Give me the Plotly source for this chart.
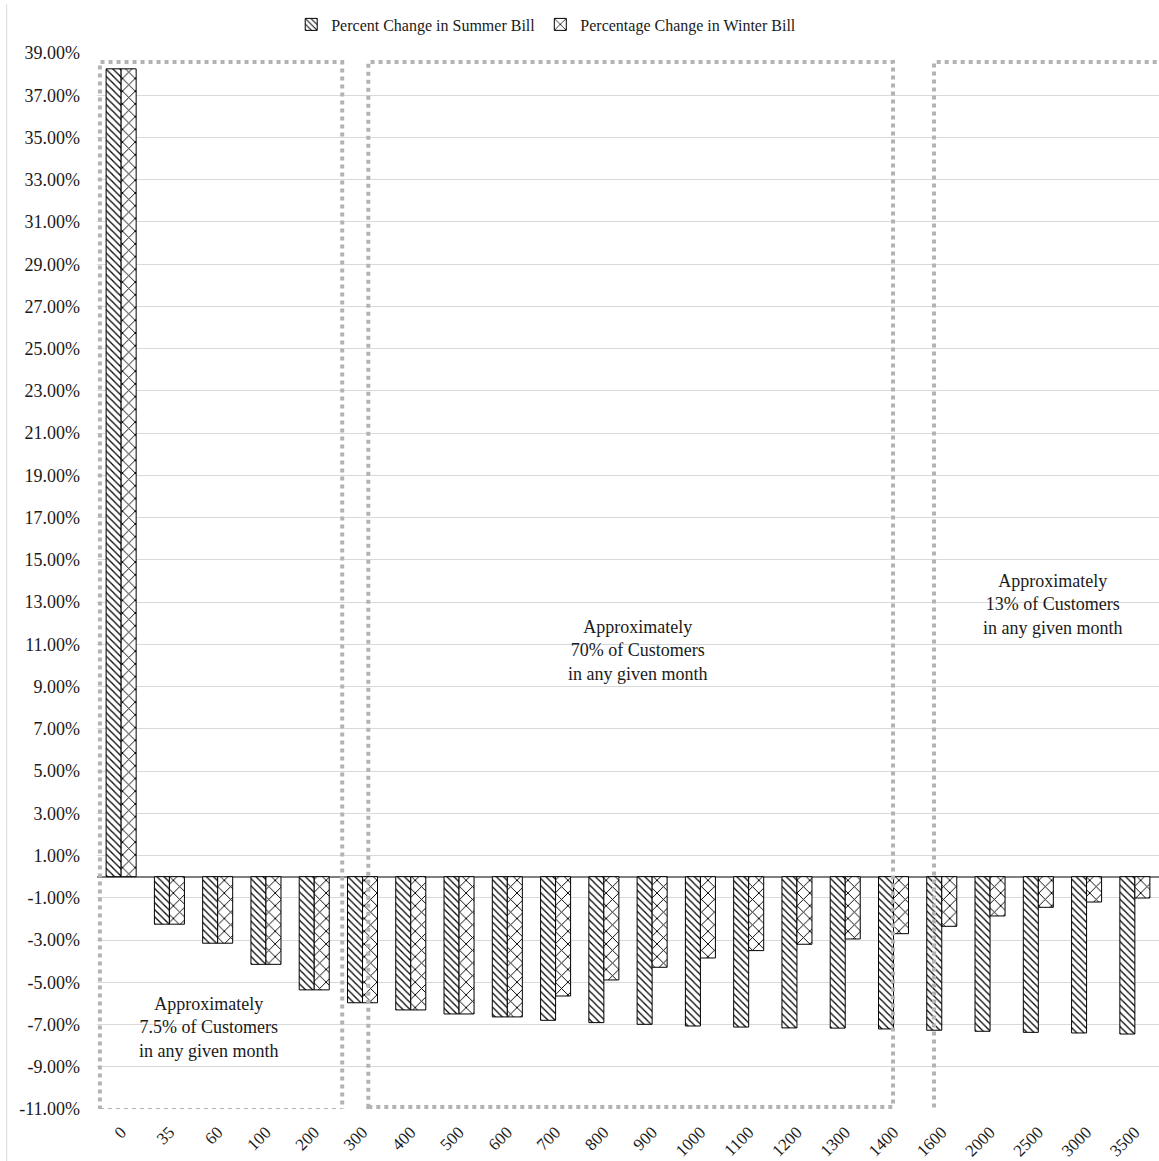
import plotly.graph_objects as go

# Monthly usage levels (kWh) shown along the x axis
usage_kwh = ["0", "35", "60", "100", "200", "300", "400", "500", "600", "700", "800",
             "900", "1000", "1100", "1200", "1300", "1400", "1600", "2000", "2500",
             "3000", "3500"]

# Percent change in the bill at each usage level
summer_change = [38.25, -2.25, -3.15, -4.15, -5.36, -5.97, -6.31, -6.50, -6.64, -6.80,
                 -6.91, -6.99, -7.07, -7.12, -7.16, -7.17, -7.21, -7.27, -7.32, -7.37,
                 -7.40, -7.45]
winter_change = [38.25, -2.25, -3.15, -4.15, -5.36, -5.97, -6.31, -6.50, -6.64, -5.65,
                 -4.89, -4.29, -3.85, -3.50, -3.20, -2.95, -2.70, -2.35, -1.86, -1.45,
                 -1.20, -1.01]

y_ticks = [-11, -9, -7, -5, -3, -1, 1, 3, 5, 7, 9, 11, 13, 15, 17, 19, 21, 23, 25, 27,
           29, 31, 33, 35, 37, 39]

group_notes = [
    "Approximately<br>7.5% of Customers<br>in any given month",
    "Approximately<br>70% of Customers<br>in any given month",
    "Approximately<br>13% of Customers<br>in any given month",
]

SERIF = "Liberation Serif, Times New Roman, serif"
TEXT = "#1a1a1a"

fig = go.Figure()
fig.add_trace(go.Bar(
    name="Percent Change in Summer Bill",
    x=usage_kwh, y=summer_change,
    marker=dict(color="white",
                line=dict(color="black", width=1),
                pattern=dict(shape="\\", size=5, solidity=0.25,
                             fgcolor="black", bgcolor="white")),
))
fig.add_trace(go.Bar(
    name="Percentage Change in Winter Bill",
    x=usage_kwh, y=winter_change,
    marker=dict(color="white",
                line=dict(color="black", width=1),
                pattern=dict(shape="x", size=9, solidity=0.2,
                             fgcolor="black", bgcolor="white")),
))

# Dotted boxes grouping the usage ranges
box_style = dict(type="rect", xref="x", yref="y", layer="above",
                 line=dict(color="#b3b3b3", width=4, dash="dot"),
                 fillcolor="rgba(0,0,0,0)")
fig.add_shape(x0=-0.44, x1=4.58, y0=-11.05, y1=38.57, **box_style)
fig.add_shape(x0=5.12, x1=15.99, y0=-10.9, y1=38.57, **box_style)
fig.add_shape(x0=16.84, x1=21.7, y0=-11.12, y1=38.57, **box_style)

# Outer chart border on the left
fig.add_shape(type="line", xref="paper", yref="paper",
              x0=-0.085, x1=-0.085, y0=-0.06, y1=1.046,
              line=dict(color="#d9d9d9", width=1))

note_pos = [(1.8, -7.12), (10.69, 10.73), (19.29, 12.91)]
for txt, (nx, ny) in zip(group_notes, note_pos):
    fig.add_annotation(x=nx, y=ny, xref="x", yref="y", text=txt, showarrow=False,
                       font=dict(family=SERIF, size=18, color=TEXT),
                       align="center")

fig.update_layout(
    width=1159, height=1161,
    template="none",
    margin=dict(l=97, r=0, t=53, b=52, pad=0),
    paper_bgcolor="white", plot_bgcolor="white",
    barmode="group", bargap=0.378, bargroupgap=0,
    font=dict(family=SERIF, color=TEXT),
    legend=dict(orientation="h", x=0.423, xanchor="center", y=1.027, yanchor="middle",
                font=dict(family=SERIF, size=16, color=TEXT),
                itemwidth=30, tracegroupgap=0, bgcolor="rgba(0,0,0,0)"),
    showlegend=True,
)
fig.update_xaxes(type="category", tickangle=-45, showgrid=False, showline=False,
                 ticks="", automargin=False, ticklabelstandoff=9,
                 tickfont=dict(family=SERIF, size=17, color=TEXT),
                 range=[-0.5, 21.5])
fig.update_yaxes(range=[-11, 39], tickvals=y_ticks,
                 ticktext=[f"{v:.2f}%" for v in y_ticks],
                 showgrid=True, gridcolor="#d9d9d9", gridwidth=1,
                 zeroline=True, zerolinecolor="#7f7f7f", zerolinewidth=2,
                 showline=False, ticks="", automargin=False, ticklabelstandoff=16,
                 tickfont=dict(family=SERIF, size=18, color=TEXT))

fig.write_html("out.html")
